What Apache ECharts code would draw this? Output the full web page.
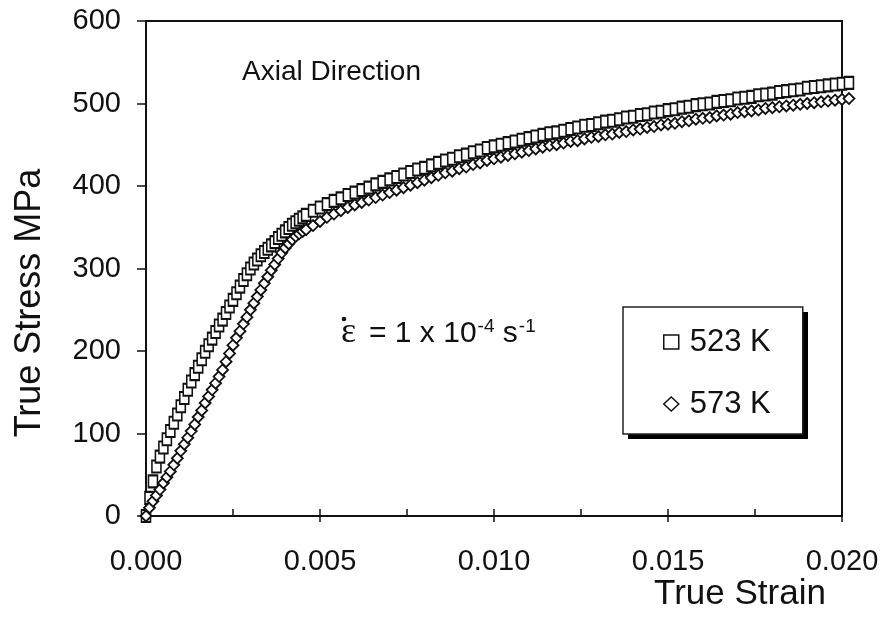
<!DOCTYPE html>
<html>
<head>
<meta charset="utf-8">
<script src="https://cdn.jsdelivr.net/npm/echarts@6/dist/echarts.min.js"></script>
<style>
html,body{margin:0;padding:0;background:#fff;}
#chart{width:887px;height:638px;}
</style>
</head>
<body>
<div id="chart"></div>
<script>
const strain = [
0,0.0001,0.0002,0.0003,0.0004,0.0005,0.0006,0.0007,0.0008,0.0009,
0.0010,0.0011,0.0012,0.0013,0.0014,0.0015,0.0016,0.0017,0.0018,0.0019,
0.0020,0.0021,0.0022,0.0023,0.0024,0.0025,0.0026,0.0027,0.0028,0.0029,
0.0030,0.0031,0.0032,0.0033,0.0034,0.0035,0.0036,0.0037,0.0038,0.0039,
0.0040,0.0041,0.0042,0.0043,0.0044,0.0045,0.0046,
0.0048,0.0050,0.0052,0.0054,0.0056,0.0058,0.0060,0.0062,0.0064,0.0066,
0.0068,0.0070,0.0072,0.0074,0.0076,0.0078,0.0080,0.0082,0.0084,0.0086,
0.0088,0.0090,0.0092,0.0094,0.0096,0.0098,0.0100,0.0102,0.0104,0.0106,
0.0108,0.0110,0.0112,0.0114,0.0116,0.0118,0.0120,0.0122,0.0124,0.0126,
0.0128,0.0130,0.0132,0.0134,0.0136,0.0138,0.0140,0.0142,0.0144,0.0146,
0.0148,0.0150,0.0152,0.0154,0.0156,0.0158,0.0160,0.0162,0.0164,0.0166,
0.0168,0.0170,0.0172,0.0174,0.0176,0.0178,0.0180,0.0182,0.0184,0.0186,
0.0188,0.0190,0.0192,0.0194,0.0196,0.0198,0.0200,0.0202
];
const stress523 = [
0,22,42,60,72,83,93,103,113,123,
133,143,153,163,172,181,190,199,207,215,
223,231,238,246,254,262,270,278,286,293,
300,306,311,316,320,324,328,332,337,341,
345,349,353,356,359,362,365,
370,374,378,382,385,389,392,395,398,402,
405,408,411,414,417,420,422,425,428,431,
433,436,438,441,443,446,448,450,452,454,
456,458,460,462,464,465,467,469,471,473,
474,476,478,479,481,483,484,486,487,489,
490,492,493,495,496,498,499,500,502,503,
504,506,507,508,510,511,512,514,515,516,
517,519,520,521,522,523,524,525
];
const stress573 = [
0,10,18,25,32,40,47,54,62,70,
79,87,95,103,111,120,128,137,145,153,
161,169,177,187,197,207,216,224,233,241,
250,258,266,274,282,290,298,305,312,319,
325,330,335,339,342,345,347,
352,357,362,366,370,374,377,380,383,386,
389,392,395,398,401,404,407,410,413,416,
418,421,423,426,428,431,433,435,437,439,
441,443,445,447,449,450,452,454,455,457,
459,460,462,463,465,466,468,469,471,472,
474,475,476,478,479,481,482,483,485,486,
487,489,490,491,492,494,495,496,497,498,
499,500,501,502,503,504,505,506
];
const seriesNames = ['523 K', '573 K'];
const xTicks = [0, 0.005, 0.010, 0.015, 0.020];
const yTicks = [0, 100, 200, 300, 400, 500, 600];

const FONT = '"Liberation Sans", Arial, Helvetica, sans-serif';
const SERIF = '"Liberation Serif", "DejaVu Serif", serif';
const INK = '#111';

const chart = echarts.init(document.getElementById('chart'), null, {renderer: 'canvas'});
const option = {
  backgroundColor: '#fff',
  animation: false,
  grid: {left: 146, top: 21, width: 696, height: 495, show: true, borderColor: INK, borderWidth: 2, backgroundColor: 'transparent'},
  xAxis: [{
    type: 'value', min: xTicks[0], max: xTicks[xTicks.length - 1], interval: 0.005,
    position: 'bottom',
    axisLine: {show: true, onZero: false, lineStyle: {color: INK, width: 2}},
    axisTick: {show: true, inside: false, length: 6, lineStyle: {color: INK, width: 1.5}},
    axisLabel: {margin: 31, fontSize: 29, fontFamily: FONT, color: INK, formatter: v => v.toFixed(3)},
    splitLine: {show: false}
  }, {
    type: 'value', min: xTicks[0], max: xTicks[xTicks.length - 1], interval: 0.0025,
    position: 'bottom',
    axisLine: {show: false, onZero: false},
    axisTick: {show: true, inside: true, length: 7, lineStyle: {color: INK, width: 1.5}},
    axisLabel: {show: false},
    splitLine: {show: false}
  }],
  yAxis: {
    type: 'value', min: yTicks[0], max: yTicks[yTicks.length - 1], interval: 100,
    axisLine: {show: true, onZero: false, lineStyle: {color: INK, width: 2}},
    axisTick: {show: true, inside: false, length: 9, lineStyle: {color: INK, width: 1.5}},
    axisLabel: {margin: 25, fontSize: 29, fontFamily: FONT, color: INK},
    splitLine: {show: false}
  },
  legend: {
    orient: 'vertical', left: 623, top: 307, z: 6,
    padding: [19, 32, 14, 40], itemGap: 30,
    itemWidth: 15, itemHeight: 14,
    backgroundColor: '#fff', borderColor: '#222', borderWidth: 1.5,
    textStyle: {fontSize: 31, fontFamily: FONT, color: INK, lineHeight: 32, padding: [0, 0, 0, 6]},
    itemStyle: {borderWidth: 1.5},
    data: seriesNames
  },
  series: [{
    name: seriesNames[0], type: 'scatter', clip: false,
    symbol: 'rect', symbolSize: [9, 12],
    itemStyle: {color: '#fff', borderColor: INK, borderWidth: 1.8, opacity: 1},
    data: strain.map((s, i) => [s, stress523[i]])
  }, {
    name: seriesNames[1], type: 'scatter', clip: false,
    symbol: 'diamond', symbolSize: [11, 11],
    itemStyle: {color: '#fff', borderColor: INK, borderWidth: 1.8, opacity: 1},
    data: strain.map((s, i) => [s, stress573[i]])
  }],
  graphic: [
    // legend drop shadow (drawn beneath the legend box)
    {type: 'rect', z: 5, zlevel: 0, silent: true, shape: {x: 628, y: 312, width: 180, height: 127}, style: {fill: '#000'}},
    {type: 'text', left: 242, top: 58, style: {text: 'Axial Direction', font: '28px ' + FONT, fill: INK}},
    {type: 'text', x: 740, y: 594, style: {text: 'True Strain', font: '35px ' + FONT, fill: INK, align: 'center', verticalAlign: 'middle'}},
    {type: 'text', x: 30, y: 303, rotation: Math.PI / 2, style: {text: 'True Stress MPa', font: '36px ' + FONT, fill: INK, align: 'center', verticalAlign: 'middle'}},
    {type: 'circle', shape: {cx: 344, cy: 319, r: 2.3}, style: {fill: INK}},
    {type: 'text', x: 341, y: 333, style: {text: 'ε', font: '36px ' + SERIF, fill: INK, align: 'left', verticalAlign: 'middle'}},
    {type: 'text', x: 369, y: 349, style: {
      text: '{b|= 1 x 10}{s|-4}{b| s}{s|-1}',
      verticalAlign: 'bottom',
      rich: {
        b: {font: '30px ' + FONT, fill: INK, lineHeight: 32, verticalAlign: 'bottom'},
        s: {font: '19px ' + FONT, fill: INK, lineHeight: 18, verticalAlign: 'top', padding: [0, 0, 0, 1]}
      }
    }}
  ]
};
chart.setOption(option);
</script>
</body>
</html>
